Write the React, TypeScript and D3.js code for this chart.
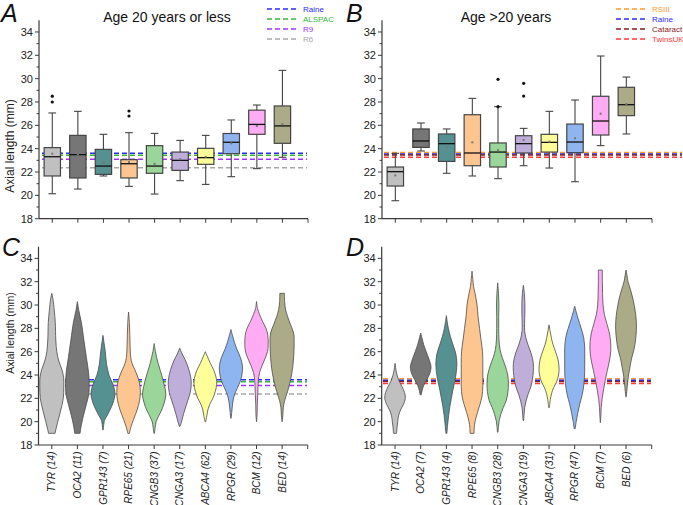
import React from "react";
import * as d3 from "d3";

// ---------- DATA ----------
const genes = ["TYR", "OCA2", "GPR143", "RPE65", "CNGB3", "CNGA3", "ABCA4", "RPGR", "BCM", "BED"];
const nYoung = [14, 11, 7, 21, 37, 17, 62, 29, 12, 14];
const nOld = [14, 7, 4, 8, 28, 19, 31, 47, 7, 6];
const colors = ["#c0c0c0", "#767676", "#569191", "#fdc690", "#9ad69a", "#bfaed9", "#ffff99", "#8fb5f0", "#ffacf4", "#abab88"];

const yTicks = [18, 20, 22, 24, 26, 28, 30, 32, 34];
const yMinorTicks = [19, 21, 23, 25, 27, 29, 31, 33];
const xTicks = [1, 2, 3, 4, 5, 6, 7, 8, 9, 10, 11];

// Panel A box statistics (age <= 20)
const minA = [20.14, 20.54, 21.66, 20.77, 20.11, 21.26, 20.94, 21.6, 22.29, 23.26];
const q1A = [21.66, 21.49, 21.8, 21.49, 21.89, 22.14, 22.66, 23.57, 25.23, 24.46];
const medA = [23.31, 23.49, 22.51, 22.71, 22.51, 23.0, 23.23, 24.55, 26.08, 25.95];
const q3A = [24.09, 25.14, 23.94, 23.06, 24.26, 23.71, 24.03, 25.3, 27.3, 27.66];
const maxA = [27.06, 27.2, 25.23, 25.37, 25.31, 24.71, 25.14, 26.46, 27.74, 30.71];
const meanA = [23.57, 23.5, 22.8, 22.86, 22.7, 23.1, 23.3, 24.46, 25.94, 26.1];
const outA = [[28.5, 28.0], [], [], [27.23, 26.8], [], [], [], [], [], []];

// Panel B box statistics (age > 20)
const minB = [19.54, 23.8, 21.89, 21.66, 21.43, 22.54, 22.34, 21.17, 24.26, 25.26];
const q1B = [20.8, 24.11, 22.91, 22.54, 22.43, 23.63, 23.71, 23.66, 25.17, 26.83];
const medB = [22.03, 24.66, 24.43, 23.63, 23.71, 24.43, 24.54, 24.57, 26.37, 27.77];
const q3B = [22.43, 25.69, 25.26, 26.91, 24.49, 25.11, 25.23, 26.11, 28.49, 29.26];
const maxB = [23.6, 26.2, 25.69, 28.31, 27.6, 25.74, 27.2, 28.17, 31.94, 30.14];
const meanB = [21.71, 24.89, 24.11, 24.54, 23.86, 24.74, 24.6, 24.89, 27.0, 27.83];
const outB = [[], [], [], [], [29.94, 27.6], [29.6, 28.51], [], [], [], []];

// Population reference means
const refYoungNames = ["Raine", "ALSPAC", "R9", "R6"];
const refYoungValues = [23.6, 23.43, 23.1, 22.37];
const refYoungColors = ["#2b2bff", "#3cb43c", "#a033ff", "#a8a8a8"];
const refOldNames = ["RSIII", "Raine", "Cataract", "TwinsUK"];
const refOldValues = [23.68, 23.55, 23.45, 23.27];
const refOldColors = ["#ff9a2e", "#2b2bff", "#8b1c1c", "#ff3b3b"];

// Violin density profiles: [axial length, relative density]
const violinYoung: number[][][] = [
  [[31.0, 0], [30.5, 1.2], [29.5, 2.5], [28.5, 3.5], [27, 4], [26, 5], [25.2, 7], [24.5, 10], [23.8, 11.8], [23, 12], [22, 11.5], [21, 9], [20, 6], [19.3, 4], [19, 3.3]],
  [[30.3, 0], [29.5, 1.5], [28.5, 4], [27, 6.5], [25.5, 9], [24.2, 11.2], [23.3, 11.8], [22.4, 11.5], [21.5, 9], [20.5, 6], [19.5, 3.5], [19, 2.7]],
  [[27.4, 0], [26.8, 1], [26, 2.3], [25, 3.5], [24, 6], [23.2, 10], [22.4, 12], [21.6, 10], [21, 7], [20.5, 4], [20.1, 1.5], [19.3, 0.3]],
  [[29.4, 0], [28.5, 0.8], [27.5, 1.2], [26.5, 1.5], [25.5, 2.2], [25, 3.5], [24.5, 6], [24, 8.5], [23.3, 11], [22.5, 11.8], [21.8, 11], [21, 8.5], [20.2, 5], [19.5, 2.2], [19, 0.8]],
  [[26.7, 0], [26, 1.3], [25, 4], [24, 7.5], [23, 10.5], [22.3, 11.7], [21.6, 10], [21, 7.5], [20.4, 4], [20, 2], [19.5, 1], [19, 0.3]],
  [[26.3, 0], [25.8, 2.5], [25.2, 6], [24.5, 9], [23.8, 11], [23.2, 11.5], [22.5, 10.5], [21.8, 8], [21, 5], [20.4, 3], [19.9, 1.5], [19.6, 0.3]],
  [[26.0, 0], [25.6, 2], [25, 5], [24.4, 8.5], [23.7, 11], [23.2, 11.3], [22.6, 10], [22, 7.5], [21.5, 4.5], [21, 2.5], [20.5, 1.5], [20, 0.3]],
  [[27.9, 0], [27.4, 1.5], [26.8, 3.5], [26.2, 6], [25.5, 9.5], [24.8, 11.5], [24.2, 11.3], [23.5, 9.5], [22.9, 6.5], [22.3, 3.5], [21.6, 1.8], [21, 1], [20.3, 0.3]],
  [[30.3, 0], [29.7, 1], [29.2, 3], [28.6, 6], [28, 9.5], [27.4, 11.3], [26.6, 11.7], [26, 11], [25.4, 8.5], [24.8, 5.5], [24.2, 3], [23.5, 1.8], [22.5, 1.3], [21.5, 0.8], [20.5, 0.5], [20, 0]],
  [[31, 2.3], [30.3, 2.5], [29.6, 3.5], [29, 5.5], [28.3, 8.5], [27.6, 11.5], [26.5, 12], [25.5, 11.5], [24.6, 10.5], [23.6, 8.5], [22.6, 5.5], [21.8, 2.5], [21.2, 1.2], [20.5, 0.7], [20, 0]],
];

const violinOld: number[][][] = [
  [[25, 0], [24.5, 0.8], [24, 2], [23.5, 4], [23, 7], [22.5, 9.5], [22, 10.3], [21.5, 8.5], [21, 5.5], [20.5, 3.5], [20, 2.7], [19.5, 2], [19, 1.5]],
  [[27.6, 0], [27.2, 1.2], [26.6, 3], [26, 5.5], [25.3, 8.5], [24.7, 10.3], [24.1, 9], [23.6, 6], [23.1, 3], [22.7, 1.5], [22.3, 0.5]],
  [[29.1, 0], [28.5, 1], [28, 2], [27.3, 4], [26.5, 7], [25.8, 9.5], [25, 10.5], [24.3, 10], [23.5, 8.5], [22.7, 6.5], [22, 5], [21.3, 3.5], [20.5, 2.2], [19.7, 1.2], [19, 0.5]],
  [[32.9, 0], [32.2, 0.8], [31.6, 1.5], [31, 3], [30, 5], [29, 6], [28, 7.5], [27, 9], [26, 10.5], [25, 10.8], [24, 10.8], [23, 10.8], [22.2, 10], [21.5, 8], [20.8, 5.5], [20, 3], [19.5, 2.2], [19, 2]],
  [[31.9, 0], [31, 0.8], [30, 1.2], [29, 1], [28, 1], [27, 1.3], [26.2, 2.3], [25.5, 4.5], [24.8, 7.5], [24, 10], [23.3, 10.7], [22.6, 10.3], [21.8, 8.5], [21.2, 5.5], [20.6, 3], [20.1, 1.5], [19.6, 0.7], [19.1, 0.3]],
  [[31.7, 0], [31, 1], [30.2, 1.5], [29.3, 1.5], [28.4, 1.2], [27.8, 1.3], [27.2, 2.5], [26.5, 5], [25.8, 8], [25, 10], [24.3, 10], [23.6, 9], [23, 7.5], [22.3, 4.5], [21.7, 2.5], [21.2, 1.3], [20.6, 0.7], [20.1, 0.3]],
  [[28.3, 0], [27.8, 1], [27.2, 2.3], [26.6, 4], [26, 6.5], [25.3, 9], [24.6, 10], [24, 9.5], [23.4, 7.5], [22.9, 4.5], [22.4, 2.5], [21.9, 1.3], [21.2, 0.3]],
  [[29.9, 0], [29.4, 1.5], [28.8, 3.5], [28, 6.5], [27.2, 9], [26.3, 10], [25.3, 10], [24.3, 10], [23.3, 9.3], [22.3, 7.5], [21.5, 5], [20.7, 3], [20, 1.5], [19.4, 0.5]],
  [[33, 2], [32, 2], [31, 2.2], [30, 2.7], [29.2, 4], [28.4, 6.5], [27.6, 9], [26.8, 10.3], [26, 10.3], [25.2, 9], [24.4, 7], [23.6, 5], [22.8, 3.3], [22, 1.8], [21.2, 0.8], [20.5, 0.5], [19.9, 0]],
  [[33, 0], [32.5, 1], [32, 2], [31.3, 4.5], [30.5, 7], [29.6, 9], [28.6, 10.3], [27.8, 10.3], [27, 9.5], [26.2, 8], [25.4, 5.5], [24.7, 4], [24, 2.5], [23.3, 1.5], [22.6, 0.8], [22.1, 0]],
];

// ---------- LAYOUT ----------
const W = 683;
const H = 505;
const FONT = "Arial, 'Liberation Sans', Helvetica, sans-serif";

type Panel = { left: number; right: number; top: number; bottom: number };
const pA: Panel = { left: 39, right: 308, top: 20.3, bottom: 218.7 };
const pB: Panel = { left: 382, right: 652, top: 20.3, bottom: 218.7 };
const pC: Panel = { left: 38.5, right: 307.7, top: 246.7, bottom: 445 };
const pD: Panel = { left: 381.7, right: 651.7, top: 246.7, bottom: 445 };

function scales(p: Panel) {
  const x = d3.scaleLinear().domain([0.5, 11]).range([p.left + 0.5, p.right]);
  const y = d3.scaleLinear().domain([18, 35]).range([p.bottom, p.top]);
  return { x, y };
}

function Axes({ p, labels }: { p: Panel; labels?: string[] }) {
  const { x, y } = scales(p);
  const ax = "#3a3a3a";
  return (
    <g>
      <line x1={p.left} x2={p.left} y1={y(35)} y2={y(18)} stroke={ax} strokeWidth={1.2} />
      <line x1={p.left} x2={x(11)} y1={p.bottom} y2={p.bottom} stroke={ax} strokeWidth={1.2} />
      {yTicks.map((t) => (
        <g key={"y" + t}>
          <line x1={p.left - 4} x2={p.left} y1={y(t)} y2={y(t)} stroke={ax} strokeWidth={1} />
          <text x={p.left - 6} y={y(t)} dy="0.36em" textAnchor="end" fontSize={11} fill="#222" fontFamily={FONT}>
            {t}
          </text>
        </g>
      ))}
      {yMinorTicks.map((t) => (
        <line key={"m" + t} x1={p.left - 2.5} x2={p.left} y1={y(t)} y2={y(t)} stroke={ax} strokeWidth={1} />
      ))}
      {xTicks.map((t) => (
        <line key={"x" + t} x1={x(t)} x2={x(t)} y1={p.bottom} y2={p.bottom + 4} stroke={ax} strokeWidth={1} />
      ))}
      {labels &&
        labels.map((l, i) => (
          <text
            key={"l" + i}
            transform={`translate(${x(i + 1)},${p.bottom + 6.5}) rotate(-90)`}
            textAnchor="end"
            dy="0.36em"
            fontSize={10}
            fontStyle="italic"
            fill="#222"
            fontFamily={FONT}
          >
            {l}
          </text>
        ))}
    </g>
  );
}

function RefLines({ p, values, cols, x1, x2 }: { p: Panel; values: number[]; cols: string[]; x1: number; x2: number }) {
  const { y } = scales(p);
  return (
    <g>
      {values.map((v, i) => (
        <line key={i} x1={x1} x2={x2} y1={y(v)} y2={y(v)} stroke={cols[i]} strokeWidth={1.5} strokeDasharray="5,3" />
      ))}
    </g>
  );
}

function Legend({ x, names, cols }: { x: number; names: string[]; cols: string[] }) {
  const rows = [9, 19, 29, 39];
  return (
    <g>
      {names.map((n, i) => (
        <g key={n}>
          <line x1={x} x2={x + 31} y1={rows[i]} y2={rows[i]} stroke={cols[i]} strokeWidth={1.5} strokeDasharray="5,3" />
          <text x={x + 36} y={rows[i]} dy="0.35em" fontSize={8} fill={cols[i]} fontFamily={FONT}>
            {n}
          </text>
        </g>
      ))}
    </g>
  );
}

function Boxes({ p, mn, q1, md, q3, mx, mean, outs }: { p: Panel; mn: number[]; q1: number[]; md: number[]; q3: number[]; mx: number[]; mean: number[]; outs: number[][] }) {
  const { x, y } = scales(p);
  const step = x(2) - x(1);
  const bw = step * 0.64;
  const cw = step * 0.3;
  const stroke = "#444";
  return (
    <g>
      {genes.map((g, i) => {
        const cx = x(i + 1);
        return (
          <g key={g}>
            <line x1={cx} x2={cx} y1={y(q3[i])} y2={y(mx[i])} stroke={stroke} strokeWidth={1.1} />
            <line x1={cx} x2={cx} y1={y(q1[i])} y2={y(mn[i])} stroke={stroke} strokeWidth={1.1} />
            <line x1={cx - cw / 2} x2={cx + cw / 2} y1={y(mx[i])} y2={y(mx[i])} stroke={stroke} strokeWidth={1.1} />
            <line x1={cx - cw / 2} x2={cx + cw / 2} y1={y(mn[i])} y2={y(mn[i])} stroke={stroke} strokeWidth={1.1} />
            <rect x={cx - bw / 2} y={y(q3[i])} width={bw} height={y(q1[i]) - y(q3[i])} fill={colors[i]} stroke={stroke} strokeWidth={1.2} />
            <line x1={cx - bw / 2} x2={cx + bw / 2} y1={y(md[i])} y2={y(md[i])} stroke="#111" strokeWidth={1.3} />
            <rect x={cx - 1} y={y(mean[i]) - 1} width={2} height={2} fill="#777" />
            {outs[i].map((o, k) => (
              <circle key={k} cx={cx} cy={y(o)} r={1.6} fill="#111" />
            ))}
          </g>
        );
      })}
    </g>
  );
}

function Violins({ p, profiles, maxHalf }: { p: Panel; profiles: number[][][]; maxHalf: number }) {
  const { x, y } = scales(p);
  const w = d3.scaleLinear().domain([0, 12]).range([0, maxHalf]);
  return (
    <g>
      {profiles.map((prof, i) => {
        const cx = x(i + 1);
        const area = d3
          .area<number[]>()
          .y((d) => y(d[0]))
          .x0((d) => cx - w(d[1]))
          .x1((d) => cx + w(d[1]))
          .curve(d3.curveCatmullRom);
        return <path key={i} d={area(prof) || ""} fill={colors[i]} stroke="#4a4a4a" strokeWidth={0.8} />;
      })}
    </g>
  );
}

export default function App() {
  return (
    <svg width={W} height={H} style={{ position: "absolute", left: 0, top: 0, background: "#fff" }} fontFamily={FONT}>
      <rect x={0} y={0} width={W} height={H} fill="#fff" />
      {/* Panel letters */}
      <text x={1} y={22} fontSize={25} fontStyle="italic" fill="#111" fontFamily={FONT}>A</text>
      <text x={346} y={22} fontSize={25} fontStyle="italic" fill="#111" fontFamily={FONT}>B</text>
      <text x={2} y={256} fontSize={25} fontStyle="italic" fill="#111" fontFamily={FONT}>C</text>
      <text x={346} y={256} fontSize={25} fontStyle="italic" fill="#111" fontFamily={FONT}>D</text>
      {/* Titles */}
      <text x={167} y={22} textAnchor="middle" fontSize={14} fill="#111" fontFamily={FONT}>Age 20 years or less</text>
      <text x={506} y={22} textAnchor="middle" fontSize={14} fill="#111" fontFamily={FONT}>Age &gt;20 years</text>
      {/* y-axis titles */}
      <text transform="translate(14,146) rotate(-90)" textAnchor="middle" fontSize={12} fill="#222" fontFamily={FONT}>Axial length (mm)</text>
      <text transform="translate(14,333) rotate(-90)" textAnchor="middle" fontSize={10.5} fill="#222" fontFamily={FONT}>Axial length (mm)</text>

      {/* Panel A */}
      <RefLines p={pA} values={refYoungValues} cols={refYoungColors} x1={42} x2={307} />
      <Boxes p={pA} mn={minA} q1={q1A} md={medA} q3={q3A} mx={maxA} mean={meanA} outs={outA} />
      <Axes p={pA} />
      <Legend x={267} names={refYoungNames} cols={refYoungColors} />

      {/* Panel B */}
      <RefLines p={pB} values={refOldValues} cols={refOldColors} x1={384} x2={682} />
      <Boxes p={pB} mn={minB} q1={q1B} md={medB} q3={q3B} mx={maxB} mean={meanB} outs={outB} />
      <Axes p={pB} />
      <Legend x={616} names={refOldNames} cols={refOldColors} />

      {/* Panel C */}
      <RefLines p={pC} values={refYoungValues} cols={refYoungColors} x1={41} x2={307} />
      <Violins p={pC} profiles={violinYoung} maxHalf={12} />
      <Axes p={pC} labels={genes.map((g, i) => `${g} (${nYoung[i]})`)} />

      {/* Panel D */}
      <RefLines p={pD} values={refOldValues} cols={refOldColors} x1={383} x2={651} />
      <Violins p={pD} profiles={violinOld} maxHalf={12} />
      <Axes p={pD} labels={genes.map((g, i) => `${g} (${nOld[i]})`)} />
    </svg>
  );
}
